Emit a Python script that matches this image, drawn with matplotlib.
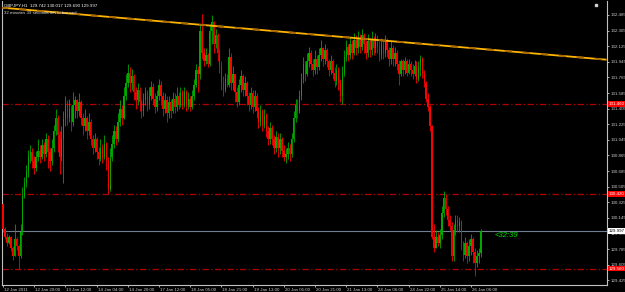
import numpy as np
import matplotlib
matplotlib.use("Agg")
import matplotlib.pyplot as plt
from matplotlib.transforms import ScaledTranslation

# GBPJPY H1 bars
first_open = 130.30
closes = [
    130.02, 129.93, 129.86, 129.92, 129.80, 129.70, 129.90, 129.82, 129.70, 129.98,
    130.40, 130.55, 130.68, 130.85, 130.90, 130.80, 130.72, 130.85, 130.92, 130.85,
    130.98, 130.88, 131.05, 130.90, 130.80, 130.95, 131.15, 131.30, 131.10, 130.85,
    131.05, 131.28, 131.45, 131.30, 131.40, 131.25, 131.45, 131.50, 131.38, 131.48,
    131.30, 131.20, 131.30, 131.15, 131.25, 131.05, 130.95, 131.05, 130.90, 130.82,
    130.95, 130.85, 131.00, 130.80, 130.48, 130.85, 131.00, 131.15, 131.05, 131.25,
    131.40, 131.30, 131.55, 131.70, 131.82, 131.70, 131.78, 131.60, 131.50, 131.62,
    131.48, 131.38, 131.50, 131.58, 131.45, 131.55, 131.65, 131.52, 131.42, 131.55,
    131.68, 131.55, 131.40, 131.50, 131.35, 131.48, 131.38, 131.52, 131.42, 131.55,
    131.45, 131.58, 131.45, 131.60, 131.45, 131.52, 131.42, 131.55, 131.68, 131.85,
    131.80, 132.30, 132.05, 131.95, 132.02, 131.92, 132.30, 132.40, 132.15, 132.25,
    132.05, 131.90, 131.70, 131.62, 131.75, 131.68, 132.00, 131.70, 131.80, 131.60,
    131.48, 131.68, 131.78, 131.62, 131.70, 131.55, 131.45, 131.58, 131.42, 131.55,
    131.38, 131.25, 131.38, 131.22, 131.32, 131.15, 131.05, 131.18, 131.05, 130.95,
    131.08, 130.95, 131.05, 130.92, 130.85, 130.88, 130.95, 130.88, 131.05, 131.30,
    131.45, 131.38, 131.55, 131.75, 131.92, 131.80, 131.95, 132.05, 131.92, 131.85,
    131.98, 131.88, 132.02, 132.10, 131.98, 132.08, 131.95, 131.85, 131.95, 131.82,
    131.72, 131.85, 131.70, 131.55, 131.82, 132.00, 132.12, 132.02, 132.15, 132.05,
    132.20, 132.10, 132.22, 132.12, 132.25, 132.15, 132.05, 132.18, 132.08, 132.20,
    132.10, 132.22, 132.12, 132.02, 132.15, 132.05, 132.18, 132.08, 131.98, 132.10,
    131.98, 132.05, 131.92, 131.80, 131.95, 131.85, 131.95, 131.82, 131.92, 131.85,
    131.80, 131.90, 131.75, 131.88, 131.98, 131.80, 131.70, 131.52, 131.42, 131.20,
    129.93, 129.80, 129.92, 129.85, 129.95, 130.20, 130.38, 130.25, 130.12, 130.05,
    129.70, 130.00, 130.12, 130.05, 130.10, 129.85, 129.72, 129.85, 129.70, 129.82,
    129.90, 129.75, 129.62, 129.70, 129.742, 129.997,
]
highs = [
    130.32, 130.04, 129.97, 129.95, 129.94, 129.82, 130.08, 129.93, 129.84, 130.08,
    130.50, 130.62, 130.75, 130.93, 130.98, 130.95, 130.86, 130.92, 131.05, 130.98,
    131.05, 131.02, 131.12, 131.10, 130.95, 131.05, 131.22, 131.40, 131.33, 131.15,
    131.20, 131.38, 131.55, 131.50, 131.52, 131.45, 131.60, 131.55, 131.52, 131.58,
    131.50, 131.35, 131.40, 131.32, 131.35, 131.28, 131.10, 131.12, 131.08, 130.96,
    131.05, 131.00, 131.10, 131.02, 130.85, 130.95, 131.10, 131.22, 131.20, 131.35,
    131.50, 131.45, 131.65, 131.80, 131.92, 131.88, 131.86, 131.80, 131.65, 131.70,
    131.65, 131.52, 131.58, 131.66, 131.62, 131.65, 131.72, 131.70, 131.58, 131.62,
    131.75, 131.72, 131.60, 131.58, 131.55, 131.55, 131.52, 131.60, 131.58, 131.65,
    131.60, 131.66, 131.62, 131.65, 131.62, 131.60, 131.55, 131.62, 131.75, 131.92,
    131.90, 132.38, 132.50, 132.10, 132.10, 132.05, 132.38, 132.48, 132.42, 132.32,
    132.28, 132.10, 131.95, 131.78, 131.82, 131.80, 132.10, 132.05, 131.90, 131.80,
    131.65, 131.75, 131.85, 131.80, 131.78, 131.72, 131.60, 131.65, 131.62, 131.62,
    131.58, 131.42, 131.45, 131.40, 131.40, 131.35, 131.20, 131.25, 131.22, 131.10,
    131.15, 131.12, 131.12, 131.08, 130.98, 130.95, 131.02, 131.00, 131.12, 131.38,
    131.52, 131.52, 131.62, 131.82, 132.00, 131.95, 132.05, 132.12, 132.08, 131.98,
    132.08, 132.02, 132.10, 132.20, 132.12, 132.15, 132.10, 131.98, 132.02, 131.98,
    131.88, 131.92, 131.88, 131.75, 131.90, 132.08, 132.20, 132.15, 132.22, 132.20,
    132.28, 132.25, 132.30, 132.26, 132.32, 132.28, 132.20, 132.26, 132.22, 132.30,
    132.24, 132.28, 132.25, 132.18, 132.22, 132.20, 132.25, 132.22, 132.12, 132.18,
    132.14, 132.12, 132.08, 131.97, 131.98, 131.98, 132.00, 131.98, 131.98, 131.95,
    131.92, 131.96, 131.95, 131.95, 132.02, 132.00, 131.85, 131.72, 131.58, 131.45,
    131.22, 130.08, 130.00, 129.98, 130.02, 130.28, 130.45, 130.42, 130.28, 130.18,
    130.10, 130.08, 130.18, 130.18, 130.16, 130.12, 129.88, 129.92, 129.88, 129.90,
    129.96, 129.92, 129.80, 129.78, 129.80, 130.017,
]
lows = [
    129.98, 129.90, 129.82, 129.84, 129.76, 129.66, 129.70, 129.78, 129.56, 129.68,
    129.95, 130.38, 130.50, 130.62, 130.78, 130.72, 130.65, 130.68, 130.80, 130.78,
    130.82, 130.80, 130.85, 130.72, 130.68, 130.76, 130.90, 131.10, 130.90, 130.65,
    130.80, 130.55, 131.20, 131.22, 131.25, 131.15, 131.20, 131.30, 131.30, 131.32,
    131.22, 131.10, 131.15, 131.05, 131.10, 130.98, 130.88, 130.90, 130.82, 130.75,
    130.80, 130.78, 130.82, 130.70, 130.42, 130.45, 130.80, 130.95, 130.98, 131.02,
    131.20, 131.22, 131.28, 131.50, 131.65, 131.60, 131.62, 131.50, 131.40, 131.45,
    131.38, 131.30, 131.32, 131.45, 131.38, 131.40, 131.50, 131.45, 131.35, 131.38,
    131.50, 131.45, 131.32, 131.35, 131.25, 131.30, 131.30, 131.35, 131.35, 131.38,
    131.40, 131.42, 131.40, 131.42, 131.38, 131.40, 131.38, 131.40, 131.50, 131.65,
    131.60, 131.75, 131.98, 131.90, 131.92, 131.88, 131.90, 132.15, 132.05, 132.10,
    131.95, 131.82, 131.62, 131.55, 131.60, 131.65, 131.65, 131.62, 131.62, 131.48,
    131.42, 131.45, 131.60, 131.55, 131.55, 131.45, 131.38, 131.40, 131.35, 131.38,
    131.30, 131.18, 131.20, 131.15, 131.18, 131.08, 130.98, 131.00, 130.98, 130.88,
    130.90, 130.85, 130.88, 130.85, 130.80, 130.78, 130.82, 130.80, 130.85, 131.02,
    131.25, 131.30, 131.35, 131.50, 131.70, 131.72, 131.78, 131.88, 131.85, 131.78,
    131.80, 131.80, 131.85, 131.95, 131.90, 131.92, 131.88, 131.78, 131.80, 131.75,
    131.65, 131.68, 131.62, 131.48, 131.46, 131.78, 131.95, 131.95, 131.98, 131.98,
    132.02, 132.02, 132.05, 132.05, 132.08, 132.05, 131.98, 132.00, 132.00, 132.02,
    132.02, 132.05, 132.05, 131.95, 131.98, 131.98, 132.00, 132.00, 131.90, 131.92,
    131.90, 131.90, 131.85, 131.68, 131.78, 131.78, 131.80, 131.78, 131.80, 131.78,
    131.75, 131.78, 131.70, 131.72, 131.78, 131.76, 131.65, 131.48, 131.38, 131.15,
    129.90, 129.75, 129.80, 129.82, 129.80, 129.90, 130.15, 130.18, 130.05, 130.00,
    129.65, 129.65, 129.95, 129.98, 129.98, 129.78, 129.65, 129.68, 129.62, 129.65,
    129.72, 129.62, 129.48, 129.58, 129.62, 129.690,
]
opens = [first_open] + closes[:-1]

date_ticks = [0, 16, 32, 48, 64, 80, 96, 112, 128, 144, 160, 176, 192, 208, 224, 240]
date_labels = ["12 Jan 2011", "12 Jan 20:00", "13 Jan 12:00", "14 Jan 04:00",
               "14 Jan 20:00", "17 Jan 12:00", "18 Jan 05:00", "18 Jan 21:00",
               "19 Jan 13:00", "20 Jan 05:00", "20 Jan 21:00", "21 Jan 13:00",
               "24 Jan 06:00", "24 Jan 22:00", "25 Jan 14:00", "26 Jan 06:00"]
price_ticks = [132.485, 132.305, 132.125, 131.945, 131.765, 131.585, 131.405,
               131.225, 131.045, 130.865, 130.685, 130.505, 130.325, 130.145,
               129.965, 129.785, 129.605, 129.425]

level_prices = [131.460, 130.420, 129.560]
bid = 129.997
trend_idx = [-1, 309]
trend_price = [132.57, 131.97]
header = "GBPJPY,H1  129.742 130.017 129.690 129.997"
timer_text = "32 minutes 39 seconds left to bar end"

plt.rcParams['font.family'] = ['Liberation Sans Narrow', 'Liberation Sans', 'DejaVu Sans']
fs = 3.2

fig = plt.figure(figsize=(6.25, 2.92), dpi=100, facecolor='black')
ax = fig.add_axes([2 / 625, 7 / 292, 605 / 625, 284 / 292], facecolor='black')

o = np.array(opens)
h = np.array(highs)
l = np.array(lows)
c = np.array(closes)
x = np.arange(len(c))
colors = np.where(c >= o, '#00A800', '#FF0000')

ax.vlines(x, l, h, colors=colors, lw=0.6, zorder=3)
ax.bar(x, np.maximum(np.abs(c - o), 0.006), bottom=np.minimum(o, c), width=0.75,
       color=colors, linewidth=0, zorder=3)

# support/resistance levels
for lv in level_prices:
    ax.axhline(lv, color='#B00000', lw=0.9, linestyle=(0, (5, 2, 1, 2)), zorder=2)
    ax.text(1.003, lv, "%.3f" % lv, transform=ax.get_yaxis_transform(), fontsize=fs,
            color='white', va='center', ha='left',
            bbox=dict(boxstyle='square,pad=0.2', fc='#FF0000', ec='none'), zorder=5,
            clip_on=False)

ax.axhline(bid, color='#708090', lw=0.8, zorder=2)
ax.text(1.003, bid, "%.3f" % bid, transform=ax.get_yaxis_transform(), fontsize=fs,
        color='black', va='center', ha='left',
        bbox=dict(boxstyle='square,pad=0.2', fc='white', ec='none'), zorder=5,
        clip_on=False)

# trend line
ax.plot(trend_idx, trend_price, color='#FFB400', lw=1.3, zorder=4)
ax.plot(trend_idx, trend_price, color='#A86800', lw=1.3, dashes=(4, 6), zorder=4)

# chart shift marker
ax.plot([304], [132.60], marker='s', color='#D0D0D0', markersize=2, zorder=6)

ax.text(252, bid - 0.06, "<32:39", color='#00E000', fontsize=5.5, style='italic',
        va='center', ha='left', zorder=5)
ax.text(0.003, 0.99, header, transform=ax.transAxes, color='white', fontsize=fs,
        va='top', ha='left', zorder=6)
ax.text(0.003, 0.965, timer_text, transform=ax.transAxes, color='#DDDDDD', fontsize=fs,
        va='top', ha='left', zorder=6)

ax.set_xlim(-0.5, 309.7)
ax.set_ylim(129.371, 132.646)

ax.yaxis.tick_right()
ax.set_yticks(price_ticks)
ax.set_yticklabels(["%.3f" % p for p in price_ticks])
ax.set_xticks(date_ticks)
ax.set_xticklabels(date_labels)
ax.tick_params(axis='y', colors='#C8C8C8', labelsize=fs, length=1.5, width=0.6, pad=1)
ax.tick_params(axis='x', colors='#C8C8C8', labelsize=fs, length=1.5, width=0.6, pad=0.4)
off = ScaledTranslation(1 / 100, 0, fig.dpi_scale_trans)
for lbl in ax.get_xticklabels():
    lbl.set_ha('left')
    lbl.set_transform(lbl.get_transform() + off)

for side in ['left', 'right', 'bottom']:
    ax.spines[side].set_color('#C0C0C0')
    ax.spines[side].set_linewidth(0.8)
ax.spines['top'].set_visible(False)

fig.savefig("out.png", dpi=100, facecolor='black')
